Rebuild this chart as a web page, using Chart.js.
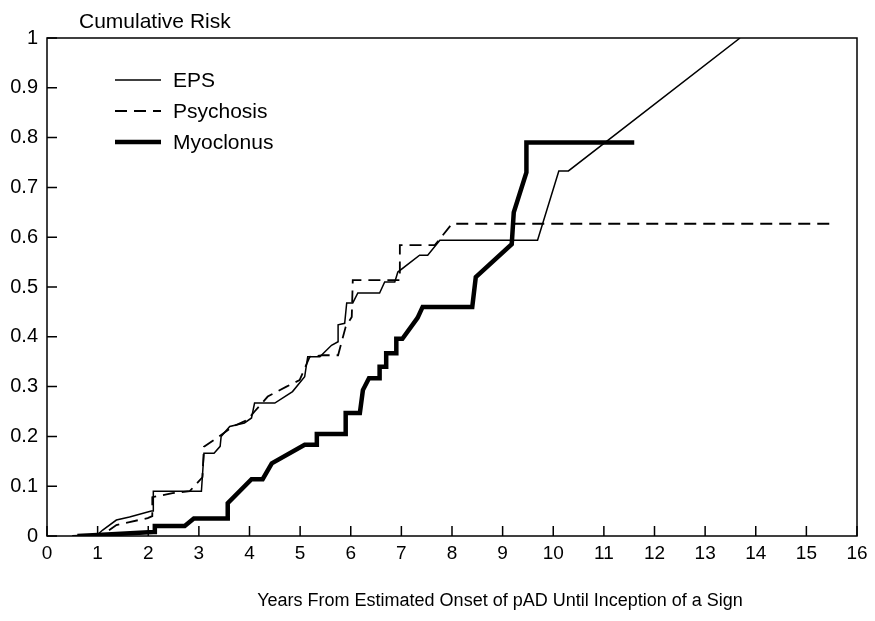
<!DOCTYPE html>
<html>
<head>
<meta charset="utf-8">
<script src="https://cdn.jsdelivr.net/npm/chart.js@4"></script>
<style>
  html, body { margin: 0; padding: 0; background: #fff; }
  #wrap { width: 875px; height: 621px; }
</style>
</head>
<body>
<div id="wrap"><canvas id="chart" width="875" height="621"></canvas></div>
<script>
const seriesLabels = ["EPS", "Psychosis", "Myoclonus"];

const epsX = [0.5, 1.0, 1.1, 1.37, 1.63, 2.06, 2.1, 2.1, 3.05, 3.1, 3.3, 3.42, 3.44, 3.61, 3.9, 4.04, 4.1, 4.5, 4.85, 5.09, 5.15, 5.39, 5.62, 5.75, 5.75, 5.88, 5.92, 6.04, 6.14, 6.57, 6.67, 6.87, 6.93, 7.36, 7.52, 7.76, 9.69, 10.11, 10.3, 13.69];
const epsY = [0, 0.003, 0.012, 0.032, 0.038, 0.05, 0.05, 0.09, 0.09, 0.166, 0.166, 0.18, 0.2, 0.22, 0.227, 0.237, 0.267, 0.267, 0.29, 0.32, 0.36, 0.36, 0.383, 0.39, 0.424, 0.427, 0.468, 0.468, 0.488, 0.488, 0.51, 0.51, 0.53, 0.564, 0.564, 0.594, 0.594, 0.733, 0.733, 1.0];

const psyX = [0.5, 1.1, 1.18, 1.37, 1.63, 1.99, 2.08, 2.08, 2.48, 2.82, 3.07, 3.1, 3.44, 3.67, 3.96, 4.1, 4.36, 4.73, 4.99, 5.19, 5.45, 5.75, 5.9, 6.02, 6.04, 6.97, 6.97, 7.66, 8.0, 15.47];
const psyY = [0, 0.003, 0.008, 0.022, 0.028, 0.036, 0.04, 0.078, 0.086, 0.09, 0.118, 0.179, 0.203, 0.22, 0.233, 0.25, 0.28, 0.3, 0.313, 0.36, 0.363, 0.363, 0.42, 0.44, 0.514, 0.514, 0.584, 0.584, 0.627, 0.627];

const myoX = [0.6, 1.0, 2.1, 2.13, 2.13, 2.72, 2.9, 3.57, 3.57, 4.04, 4.26, 4.44, 5.09, 5.33, 5.33, 5.9, 5.9, 6.18, 6.24, 6.36, 6.57, 6.57, 6.7, 6.7, 6.9, 6.9, 7.02, 7.32, 7.42, 8.4, 8.47, 9.18, 9.22, 9.47, 9.47, 11.6];
const myoY = [0, 0.002, 0.008, 0.008, 0.02, 0.02, 0.035, 0.035, 0.066, 0.114, 0.114, 0.146, 0.183, 0.183, 0.205, 0.205, 0.247, 0.247, 0.293, 0.317, 0.317, 0.34, 0.34, 0.367, 0.367, 0.396, 0.396, 0.438, 0.46, 0.46, 0.52, 0.586, 0.65, 0.73, 0.79, 0.79];

const xTitle = "Years From Estimated Onset of pAD Until Inception of a Sign";
const yTitle = "Cumulative Risk";

const fontFamily = "'Liberation Sans', Arial, sans-serif";

function toPoints(xs, ys) {
    return xs.map((x, i) => ({ x: x, y: ys[i] }));
}

// frame, inward ticks, legend and both titles
const decorPlugin = {
    id: "decor",
    afterDraw(chart) {
        const ctx = chart.ctx;
        const area = chart.chartArea;
        const xs = chart.scales.x;
        const ys = chart.scales.y;
        ctx.save();
        ctx.strokeStyle = "#000";
        ctx.lineWidth = 1.5;
        ctx.strokeRect(area.left, area.top, area.right - area.left, area.bottom - area.top);

        ctx.beginPath();
        xs.ticks.forEach((t) => {
            const px = xs.getPixelForValue(t.value);
            ctx.moveTo(px, area.bottom);
            ctx.lineTo(px, area.bottom - 10);
        });
        ys.ticks.forEach((t) => {
            const py = ys.getPixelForValue(t.value);
            ctx.moveTo(area.left, py);
            ctx.lineTo(area.left + 10, py);
        });
        ctx.stroke();

        ctx.fillStyle = "#000";
        ctx.textBaseline = "middle";

        // y title, top left
        ctx.font = "21px " + fontFamily;
        ctx.textAlign = "left";
        ctx.fillText(yTitle, area.left + 32, 22);

        // x title, sits right of centre in the original
        ctx.font = "18px " + fontFamily;
        ctx.textAlign = "center";
        ctx.fillText(xTitle, 500, 601);

        // legend
        ctx.font = "21px " + fontFamily;
        ctx.textAlign = "left";
        chart.data.datasets.forEach((ds, i) => {
            const y = area.top + 42 + i * 31;
            ctx.beginPath();
            ctx.lineWidth = ds.borderWidth;
            ctx.setLineDash(ds.borderDash || []);
            ctx.moveTo(area.left + 68, y);
            ctx.lineTo(area.left + 114, y);
            ctx.stroke();
            ctx.setLineDash([]);
            ctx.fillText(ds.label, area.left + 126, y + 1);
        });
        ctx.restore();
    },
};

new Chart(document.getElementById("chart"), {
    type: "line",
    data: {
        datasets: [
            {
                label: seriesLabels[0],
                data: toPoints(epsX, epsY),
                borderColor: "#000",
                borderWidth: 1.5,
            },
            {
                label: seriesLabels[1],
                data: toPoints(psyX, psyY),
                borderColor: "#000",
                borderWidth: 1.8,
                borderDash: [12, 7],
            },
            {
                label: seriesLabels[2],
                data: toPoints(myoX, myoY),
                borderColor: "#000",
                borderWidth: 4.5,
            },
        ],
    },
    options: {
        responsive: false,
        animation: false,
        layout: {
            padding: { top: 38, right: 18, left: 0, bottom: 0 },
        },
        elements: {
            point: { radius: 0 },
            line: { tension: 0, fill: false },
        },
        plugins: {
            legend: { display: false },
            tooltip: { enabled: false },
        },
        scales: {
            x: {
                type: "linear",
                min: 0,
                max: 16,
                ticks: {
                    stepSize: 1,
                    color: "#000",
                    padding: 6,
                    font: { family: fontFamily, size: 19 },
                },
                grid: { display: false, drawTicks: false },
                border: { display: false },
                afterFit(scale) {
                    scale.height = 85;
                },
            },
            y: {
                min: 0,
                max: 1,
                ticks: {
                    stepSize: 0.1,
                    color: "#000",
                    padding: 9,
                    font: { family: fontFamily, size: 20 },
                    callback: (value) => String(Number(value.toFixed(1))),
                },
                grid: { display: false, drawTicks: false },
                border: { display: false },
                afterFit(scale) {
                    scale.width = 47;
                },
            },
        },
    },
    plugins: [decorPlugin],
});
</script>
</body>
</html>
